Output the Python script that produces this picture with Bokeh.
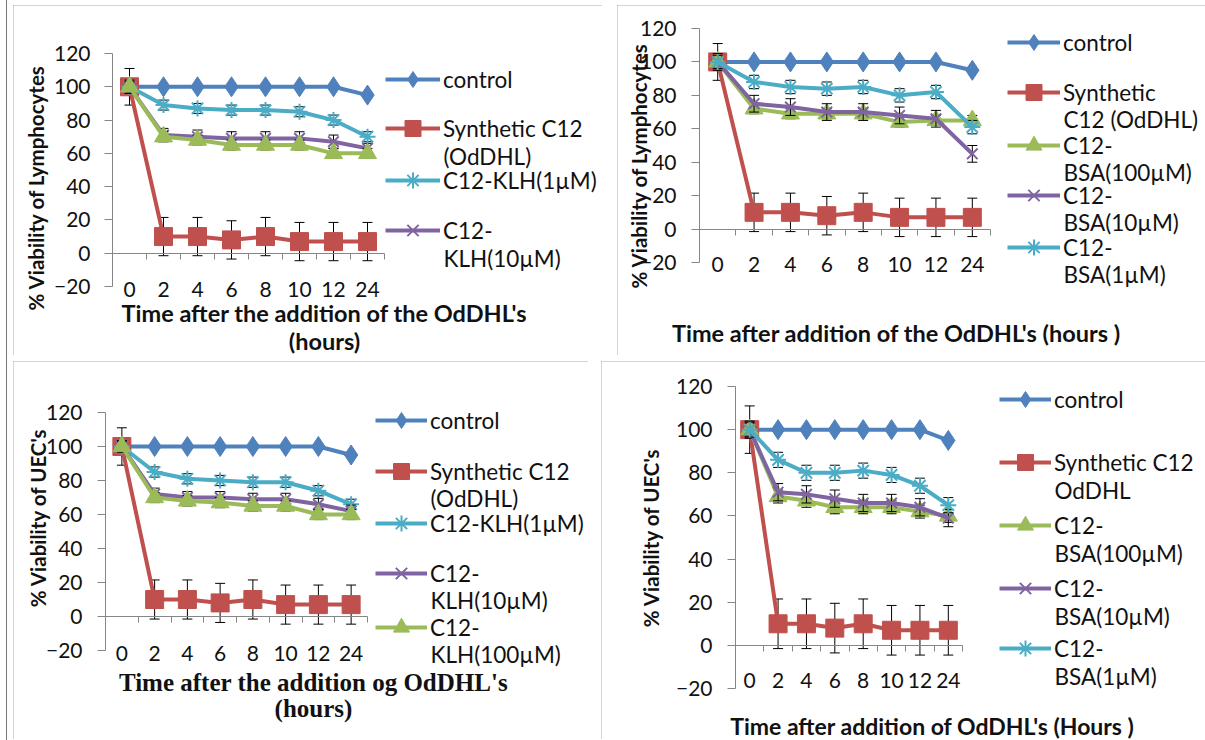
import math
from bokeh.plotting import figure
from bokeh.models import FixedTicker, LinearAxis, Range1d, Legend, LegendItem, Label
from bokeh.layouts import row, column
from bokeh.embed import file_html
from bokeh.resources import INLINE

# ---------------- data ----------------
hours = ["0", "2", "4", "6", "8", "10", "12", "24"]
y_ticks = [-20, 0, 20, 40, 60, 80, 100, 120]

# Panel 1: lymphocytes, KLH conjugates
lym_klh_control = [100, 100, 100, 100, 100, 100, 100, 95]
lym_klh_synthetic = [100, 10, 10, 8, 10, 7, 7, 7]
lym_klh_1uM = [100, 89, 87, 86, 86, 85, 80, 70]
lym_klh_10uM = [100, 71, 70, 69, 69, 69, 67, 63]
lym_klh_100uM = [100, 70, 68, 65, 65, 65, 60, 60]
lym_klh_err_synthetic = [11, 11.5, 11.5, 11.5, 11.5, 11.5, 11.5, 11.5]
lym_klh_err_1uM = [3, 3, 3, 3, 3, 3, 3, 3]
lym_klh_err_10uM = [4, 4, 4, 4, 4, 4, 4, 3]
lym_klh_err_100uM = [3, 3, 3, 3, 3, 3, 3, 3]

# Panel 2: lymphocytes, BSA conjugates
lym_bsa_control = [100, 100, 100, 100, 100, 100, 100, 95]
lym_bsa_synthetic = [100, 10, 10, 8, 10, 7, 7, 7]
lym_bsa_100uM = [100, 72, 69, 69, 69, 64, 65, 65]
lym_bsa_10uM = [100, 75, 73, 70, 70, 68, 66, 45]
lym_bsa_1uM = [100, 88, 85, 84, 85, 80, 82, 61]
lym_bsa_err_synthetic = [11, 11.5, 11.5, 11.5, 11.5, 11.5, 11.5, 11.5]
lym_bsa_err_100uM = [3, 3, 3, 3, 3, 3, 3, 3]
lym_bsa_err_10uM = [5, 5, 5, 5, 5, 5, 5, 5]
lym_bsa_err_1uM = [4, 4, 4, 4, 4, 4, 4, 4]

# Panel 3: UEC's, KLH conjugates
uec_klh_control = [100, 100, 100, 100, 100, 100, 100, 95]
uec_klh_synthetic = [100, 10, 10, 8, 10, 7, 7, 7]
uec_klh_1uM = [100, 85, 81, 80, 79, 79, 74, 66]
uec_klh_10uM = [100, 72, 70, 70, 69, 69, 66, 62]
uec_klh_100uM = [100, 70, 68, 67, 65, 65, 60, 60]
uec_klh_err_synthetic = [11, 11.5, 11.5, 11.5, 11.5, 11.5, 11.5, 11.5]
uec_klh_err_1uM = [3, 3, 3, 3, 3, 3, 3, 3]
uec_klh_err_10uM = [3.5, 3.5, 3.5, 3.5, 3.5, 3.5, 3.5, 3.5]
uec_klh_err_100uM = [3, 3, 3, 3, 3, 3, 3, 3]

# Panel 4: UEC's, BSA conjugates
uec_bsa_control = [100, 100, 100, 100, 100, 100, 100, 95]
uec_bsa_synthetic = [100, 10, 10, 8, 10, 7, 7, 7]
uec_bsa_100uM = [100, 69, 67, 64, 64, 64, 62, 60]
uec_bsa_10uM = [100, 71, 70, 68, 66, 66, 64, 59]
uec_bsa_1uM = [100, 86, 80, 80, 81, 79, 74, 65]
uec_bsa_err_synthetic = [11, 11.5, 11.5, 11.5, 11.5, 11.5, 11.5, 11.5]
uec_bsa_err_100uM = [3, 3, 3, 3, 3, 3, 3, 3]
uec_bsa_err_10uM = [4, 4, 4, 4, 4, 4, 4, 4]
uec_bsa_err_1uM = [3.5, 3.5, 3.5, 3.5, 3.5, 3.5, 3.5, 3.5]

# ---------------- styles ----------------
FONT = "Lato"
SERIF = "Liberation Serif"
AX = "#868686"
TXT = "#111111"
LEG_SIZE = "22.5px"
STYLE = {
    "control": ("#4F81BD", "diamond", 20, 1),
    "synthetic": ("#C0504D", "square", 18, 1),
    "c100": ("#9BBB59", "triangle", 18, 1),
    "c10": ("#8064A2", "x", 15, 2),
    "c1": ("#4BACC6", "asterisk", 16, 2),
}

# category slots: each time point sits in the middle of its slot
n = len(hours)
xpos = [i + 0.5 for i in range(n)]
ymin, ymax = y_ticks[0], y_ticks[-1]


def make_panel(cfg):
    W, H, ml, mr, mt, mb = cfg["w"], cfg["h"], cfg["ml"], cfg["mr"], cfg["mt"], cfg["mb"]
    ppx = (W - ml - mr) / n
    ppy = (H - mt - mb) / (ymax - ymin)
    p = figure(width=W, height=H,
               x_range=Range1d(-ml / ppx, n + mr / ppx),
               y_range=Range1d(ymin - mb / ppy, ymax + mt / ppy),
               x_axis_location=None, y_axis_location=None, min_border=0,
               output_backend="svg", toolbar_location=None, tools="")
    p.grid.visible = False
    p.outline_line_color = None
    p.background_fill_color = "white"
    p.border_fill_color = "white"
    p.styles = {"outline": "1px solid #a8a8a8", "outline-offset": "-1px"}

    ya = LinearAxis(fixed_location=0, bounds=(ymin, ymax), ticker=FixedTicker(ticks=y_ticks),
                    axis_line_color=AX, major_tick_line_color=AX, minor_tick_line_color=None,
                    major_tick_in=0, major_tick_out=8, major_label_standoff=cfg["ystand"],
                    major_label_text_font=FONT, major_label_text_font_size="21px",
                    major_label_text_color=TXT)
    p.add_layout(ya, "left")

    xa = LinearAxis(fixed_location=0, ticker=FixedTicker(ticks=xpos),
                    major_label_overrides={x: h for x, h in zip(xpos, hours)},
                    axis_line_color=None, major_tick_line_color=None, minor_tick_line_color=None,
                    major_tick_in=0, major_tick_out=0, major_label_standoff=cfg["xstand"],
                    major_label_text_font=FONT, major_label_text_font_size="21px",
                    major_label_text_color=TXT)
    p.add_layout(xa, "below")

    za = LinearAxis(fixed_location=0, bounds=(0, n), ticker=FixedTicker(ticks=list(range(n + 1))),
                    axis_line_color=AX, major_tick_line_color=AX,
                    minor_tick_line_color=None, major_tick_in=0, major_tick_out=6,
                    major_label_text_color=None, major_label_text_font_size="1px")
    p.add_layout(za, "below")

    for key, lines, vals, errs, leg in cfg["series"]:
        color, marker, size, lw = STYLE[key]
        if errs is not None:
            lo = [v - e for v, e in zip(vals, errs)]
            hi = [v + e for v, e in zip(vals, errs)]
            p.segment(x0=xpos, y0=lo, x1=xpos, y1=hi, line_color="black", line_width=1)
            p.scatter(x=xpos + xpos, y=lo + hi, marker="dash", size=10,
                      line_color="black", line_width=1)
        lr = p.line(xpos, vals, line_color=color, line_width=4)
        mr_ = p.scatter(xpos, vals, marker=marker, size=size, fill_color=color,
                        line_color=color, line_width=lw)
        if leg is None:
            continue
        vx, vy = leg[0] + ml, leg[1] + mb
        gw = cfg["gw"]
        legend = Legend(items=[LegendItem(label=lines[0], renderers=[lr, mr_])],
                        location=(vx, vy), padding=0, margin=0, spacing=0,
                        glyph_width=gw, glyph_height=40, label_height=40,
                        label_standoff=3, border_line_color=None,
                        background_fill_alpha=0,
                        label_text_font=FONT, label_text_font_size=LEG_SIZE,
                        label_text_color=TXT)
        p.add_layout(legend)
        for i, extra in enumerate(lines[1:]):
            p.add_layout(Label(x=vx + gw + 3, y=vy + 20 - cfg["lgap"] * (i + 1),
                               x_units="screen", y_units="screen", text=extra,
                               text_font=FONT, text_font_size=LEG_SIZE, text_color=TXT,
                               text_baseline="middle", text_align="left"))

    for (tx, ty, text, font, size, angle) in cfg["titles"]:
        p.add_layout(Label(x=tx + ml, y=ty + mb, x_units="screen", y_units="screen", text=text,
                           text_font=font, text_font_size=size, text_font_style="bold",
                           text_color=TXT, text_align="center", text_baseline="middle",
                           angle=angle))
    return p


ROT = math.pi / 2
XT = "23.5px"
YT = "20.5px"

p1 = make_panel(dict(
    w=589, h=350, ml=99, mr=218, mt=48, mb=69, ystand=14, xstand=29, gw=55, lgap=28,
    series=[
        ("control", ["control"], lym_klh_control, None, (273, 187)),
        ("synthetic", ["Synthetic C12", "(OdDHL)"], lym_klh_synthetic, lym_klh_err_synthetic, (273, 138)),
        ("c1", ["C12-KLH(1µM)"], lym_klh_1uM, lym_klh_err_1uM, (273, 86)),
        ("c10", ["C12-", "KLH(10µM)"], lym_klh_10uM, lym_klh_err_10uM, (273, 36)),
        ("c100", ["C12-", "KLH(100µM)"], lym_klh_100uM, lym_klh_err_100uM, None),
    ],
    titles=[
        (212, -26, "Time after the addition of the OdDHL's", FONT, XT, 0),
        (212, -54, "(hours)", FONT, XT, 0),
        (-77, 99, "% Viability of Lymphocytes", FONT, YT, ROT),
    ]))

p2 = make_panel(dict(
    w=588, h=350, ml=82, mr=215, mt=23, mb=93, ystand=15, xstand=28, gw=53, lgap=27,
    series=[
        ("control", ["control"], lym_bsa_control, None, (308, 200)),
        ("synthetic", ["Synthetic", "C12 (OdDHL)"], lym_bsa_synthetic, lym_bsa_err_synthetic, (308, 150)),
        ("c100", ["C12-", "BSA(100µM)"], lym_bsa_100uM, lym_bsa_err_100uM, (308, 97)),
        ("c10", ["C12-", "BSA(10µM)"], lym_bsa_10uM, lym_bsa_err_10uM, (308, 47)),
        ("c1", ["C12-", "BSA(1µM)"], lym_bsa_1uM, lym_bsa_err_1uM, (308, -5)),
    ],
    titles=[
        (197, -70, "Time after addition of the OdDHL's (hours )", FONT, XT, 0),
        (-61, 97, "% Viability of Lymphocytes", FONT, YT, ROT),
    ]))

p3 = make_panel(dict(
    w=575, h=378, ml=92, mr=221, mt=51, mb=89, ystand=15, xstand=29, gw=52, lgap=27,
    series=[
        ("control", ["control"], uec_klh_control, None, (270, 210)),
        ("synthetic", ["Synthetic C12", "(OdDHL)"], uec_klh_synthetic, uec_klh_err_synthetic, (270, 159)),
        ("c1", ["C12-KLH(1µM)"], uec_klh_1uM, uec_klh_err_1uM, (270, 107)),
        ("c10", ["C12-", "KLH(10µM)"], uec_klh_10uM, uec_klh_err_10uM, (270, 57)),
        ("c100", ["C12-", "KLH(100µM)"], uec_klh_100uM, uec_klh_err_100uM, (270, 3)),
    ],
    titles=[
        (208, -32, "Time after the addition og OdDHL's", SERIF, "25px", 0),
        (208, -58, "(hours)", SERIF, "25px", 0),
        (-68, 133, "% Viability of UEC's", FONT, YT, ROT),
    ]))

p4 = make_panel(dict(
    w=604, h=378, ml=134, mr=243, mt=25, mb=51, ystand=15, xstand=28, gw=52, lgap=28,
    series=[
        ("control", ["control"], uec_bsa_control, None, (264, 269)),
        ("synthetic", ["Synthetic C12", "OdDHL"], uec_bsa_synthetic, uec_bsa_err_synthetic, (264, 206)),
        ("c100", ["C12-", "BSA(100µM)"], uec_bsa_100uM, uec_bsa_err_100uM, (264, 143)),
        ("c10", ["C12-", "BSA(10µM)"], uec_bsa_10uM, uec_bsa_err_10uM, (264, 80)),
        ("c1", ["C12-", "BSA(1µM)"], uec_bsa_1uM, uec_bsa_err_1uM, (264, 20)),
    ],
    titles=[
        (197, -37, "Time after addition of OdDHL's (Hours )", FONT, "23px", 0),
        (-85, 151, "% Viability of UEC's", FONT, YT, ROT),
    ]))

layout = column(row(p1, p2, spacing=15), row(p3, p4, spacing=13), spacing=6,
                margin=(5, 0, 0, 13),
                styles={"outline": "1px solid #777777", "outline-offset": "6px"})

open("out.html", "w").write(file_html(layout, INLINE))
